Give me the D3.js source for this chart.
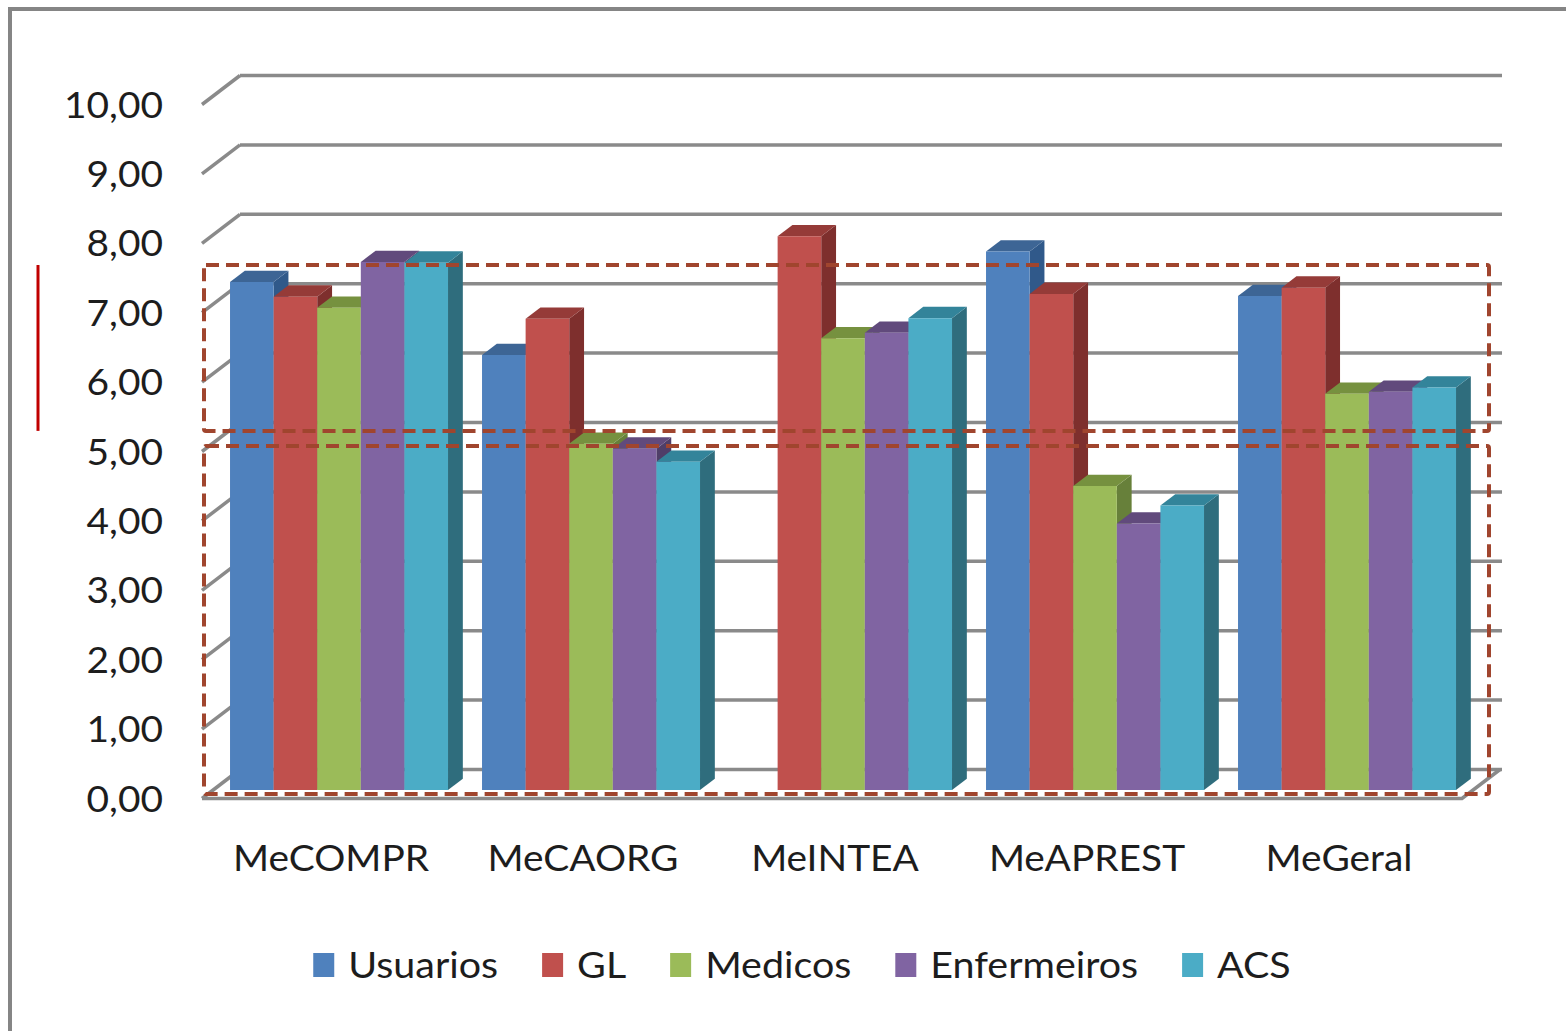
<!DOCTYPE html>
<html>
<head>
<meta charset="utf-8">
<script src="https://cdn.jsdelivr.net/npm/d3@7/dist/d3.min.js"></script>
<style>
  html, body { margin: 0; padding: 0; background: #fff; }
  svg { display: block; }
  text { font-family: Lato, "Open Sans", sans-serif; fill: #1d1d1d; }
</style>
</head>
<body>
<svg id="chart" width="1566" height="1031"></svg>
<script>
// Mean scores per dimension and respondent group
const categories = ["MeCOMPR", "MeCAORG", "MeINTEA", "MeAPREST", "MeGeral"];
const seriesNames = ["Usuarios", "GL", "Medicos", "Enfermeiros", "ACS"];
const usuarios    = [7.32, 6.27, null, 7.76, 7.12];
const gl          = [7.11, 6.79, 7.98, 7.15, 7.24];
const medicos     = [6.95, 4.99, 6.51, 4.38, 5.71];
const enfermeiros = [7.61, 4.92, 6.59, 3.84, 5.74];
const acs         = [7.60, 4.73, 6.80, 4.10, 5.80];
const yTicks      = [0, 1, 2, 3, 4, 5, 6, 7, 8, 9, 10];
const yTickLabels = ["0,00", "1,00", "2,00", "3,00", "4,00", "5,00", "6,00", "7,00", "8,00", "9,00", "10,00"];

const seriesValues = [usuarios, gl, medicos, enfermeiros, acs];

// Face colours: front, top, side
const faceColors = [
  { front: "#4F81BD", top: "#3D6595", side: "#30598A" },
  { front: "#C0504D", top: "#953B38", side: "#7E2F2D" },
  { front: "#9BBB59", top: "#76913F", side: "#67803A" },
  { front: "#8064A2", top: "#614A7C", side: "#4F3E68" },
  { front: "#4BACC6", top: "#33849A", side: "#2F6D7D" }
];

const SX = 1.08;  // slight horizontal stretch of the lettering

const svg = d3.select("#chart");

// Outer frame
svg.append("path")
  .attr("d", "M10,1031 L10,9 L1566,9")
  .attr("fill", "none").attr("stroke", "#858585").attr("stroke-width", 4);

// 3D projection: front plane plus an oblique depth offset
const DX = 38, DY = -29;
const x0 = d3.scaleBand().domain(categories).range([202, 1462]);
const x1 = d3.scaleBand().domain(seriesNames).range([0, x0.bandwidth()]).paddingOuter(0.39);
const y = d3.scaleLinear().domain([0, 10]).range([798.5, 104.5]);
const P = (xf, v, f) => [xf + f * DX, y(v) + f * DY];
const F1 = 0.29, F2 = 0.68;   // front and back depth of the bars

const defs = svg.append("defs");
defs.append("filter").attr("id", "soft")
  .attr("x", "-5%").attr("y", "-50%").attr("width", "110%").attr("height", "200%")
  .append("feGaussianBlur").attr("stdDeviation", 0.7);

const grid = svg.append("g").attr("filter", "url(#soft)");
const gridColor = "#8a8a8a";

// Back wall gridlines
grid.selectAll("line.back").data(yTicks).join("line")
  .attr("x1", d => P(202, d, 1)[0]).attr("y1", d => P(202, d, 1)[1])
  .attr("x2", 1502).attr("y2", d => P(202, d, 1)[1])
  .attr("stroke", gridColor).attr("stroke-width", 3.5);

// Side wall gridlines
grid.selectAll("line.side").data(yTicks).join("line")
  .attr("x1", d => P(202, d, 0)[0]).attr("y1", d => P(202, d, 0)[1])
  .attr("x2", d => P(202, d, 1)[0]).attr("y2", d => P(202, d, 1)[1])
  .attr("stroke", gridColor).attr("stroke-width", 3.5);

// Floor edges
const line = d3.line();
grid.append("path")
  .attr("d", line([P(202, 0, 0), P(1462, 0, 0), P(1462, 0, 1)]))
  .attr("fill", "none").attr("stroke", gridColor).attr("stroke-width", 3.5);

// Bars
const bars = svg.append("g");
categories.forEach((cat, ci) => {
  seriesNames.forEach((s, si) => {
    const v = seriesValues[si][ci];
    if (v == null) return;
    const xl = x0(cat) + x1(s);
    const xr = xl + x1.bandwidth();
    const c = faceColors[si];
    const poly = pts => "M" + pts.map(p => p.join(",")).join("L") + "Z";
    bars.append("path")
      .attr("d", poly([P(xr, v, F1), P(xr, v, F2), P(xr, 0, F2), P(xr, 0, F1)]))
      .attr("fill", c.side);
    bars.append("path")
      .attr("d", poly([P(xl, v, F1), P(xr, v, F1), P(xr, v, F2), P(xl, v, F2)]))
      .attr("fill", c.top);
    bars.append("path")
      .attr("d", poly([P(xl, v, F1), P(xr, v, F1), P(xr, 0, F1), P(xl, 0, F1)]))
      .attr("fill", c.front);
  });
});

// Value axis labels
svg.append("g").selectAll("text").data(yTicks).join("text")
  .attr("transform", d => `translate(163,${y(d) + 13}) scale(${SX},1)`)
  .attr("text-anchor", "end").attr("font-size", 36)
  .text((d, i) => yTickLabels[i]);

// Category labels
svg.append("g").selectAll("text").data(categories).join("text")
  .attr("transform", d => `translate(${x0(d) + x0.bandwidth() / 2 + 3},871) scale(${SX},1)`)
  .attr("text-anchor", "middle").attr("font-size", 36)
  .text(d => d);

// Highlight boxes
const boxColor = "#A0452E";
const boxes = [
  { x0: 204, x1: 1489, v0: 7.687, v1: 5.297 },
  { x0: 204, x1: 1489, v0: 5.079, v1: 0.065 }
];
svg.append("g").selectAll("rect").data(boxes).join("rect")
  .attr("x", d => d.x0).attr("width", d => d.x1 - d.x0)
  .attr("y", d => y(d.v0)).attr("height", d => y(d.v1) - y(d.v0))
  .attr("fill", "none").attr("stroke", boxColor).attr("stroke-width", 4)
  .attr("stroke-dasharray", "13 7").attr("rx", 2);

// Marker line beside the axis
svg.append("line")
  .attr("x1", 38).attr("x2", 38)
  .attr("y1", y(boxes[0].v0)).attr("y2", y(boxes[0].v1))
  .attr("stroke", "#C00000").attr("stroke-width", 3);

// Legend
const LSX = 1.065;
const legend = svg.append("g");
const items = legend.selectAll("g").data(seriesNames).join("g");
items.append("rect").attr("width", 21).attr("height", 24).attr("y", 953)
  .attr("fill", (d, i) => faceColors[i].front);
items.append("text")
  .attr("transform", `translate(35,978) scale(${LSX},1)`)
  .attr("font-size", 37).text(d => d);
const widths = [];
items.each(function () {
  const w = 35 + LSX * d3.select(this).select("text").node().getComputedTextLength();
  widths.push(w);
});
const gap = 44;
const total = d3.sum(widths) + gap * (widths.length - 1);
let cx = 802 - total / 2;
items.attr("transform", (d, i) => {
  const t = `translate(${cx},0)`;
  cx += widths[i] + gap;
  return t;
});
</script>
</body>
</html>
